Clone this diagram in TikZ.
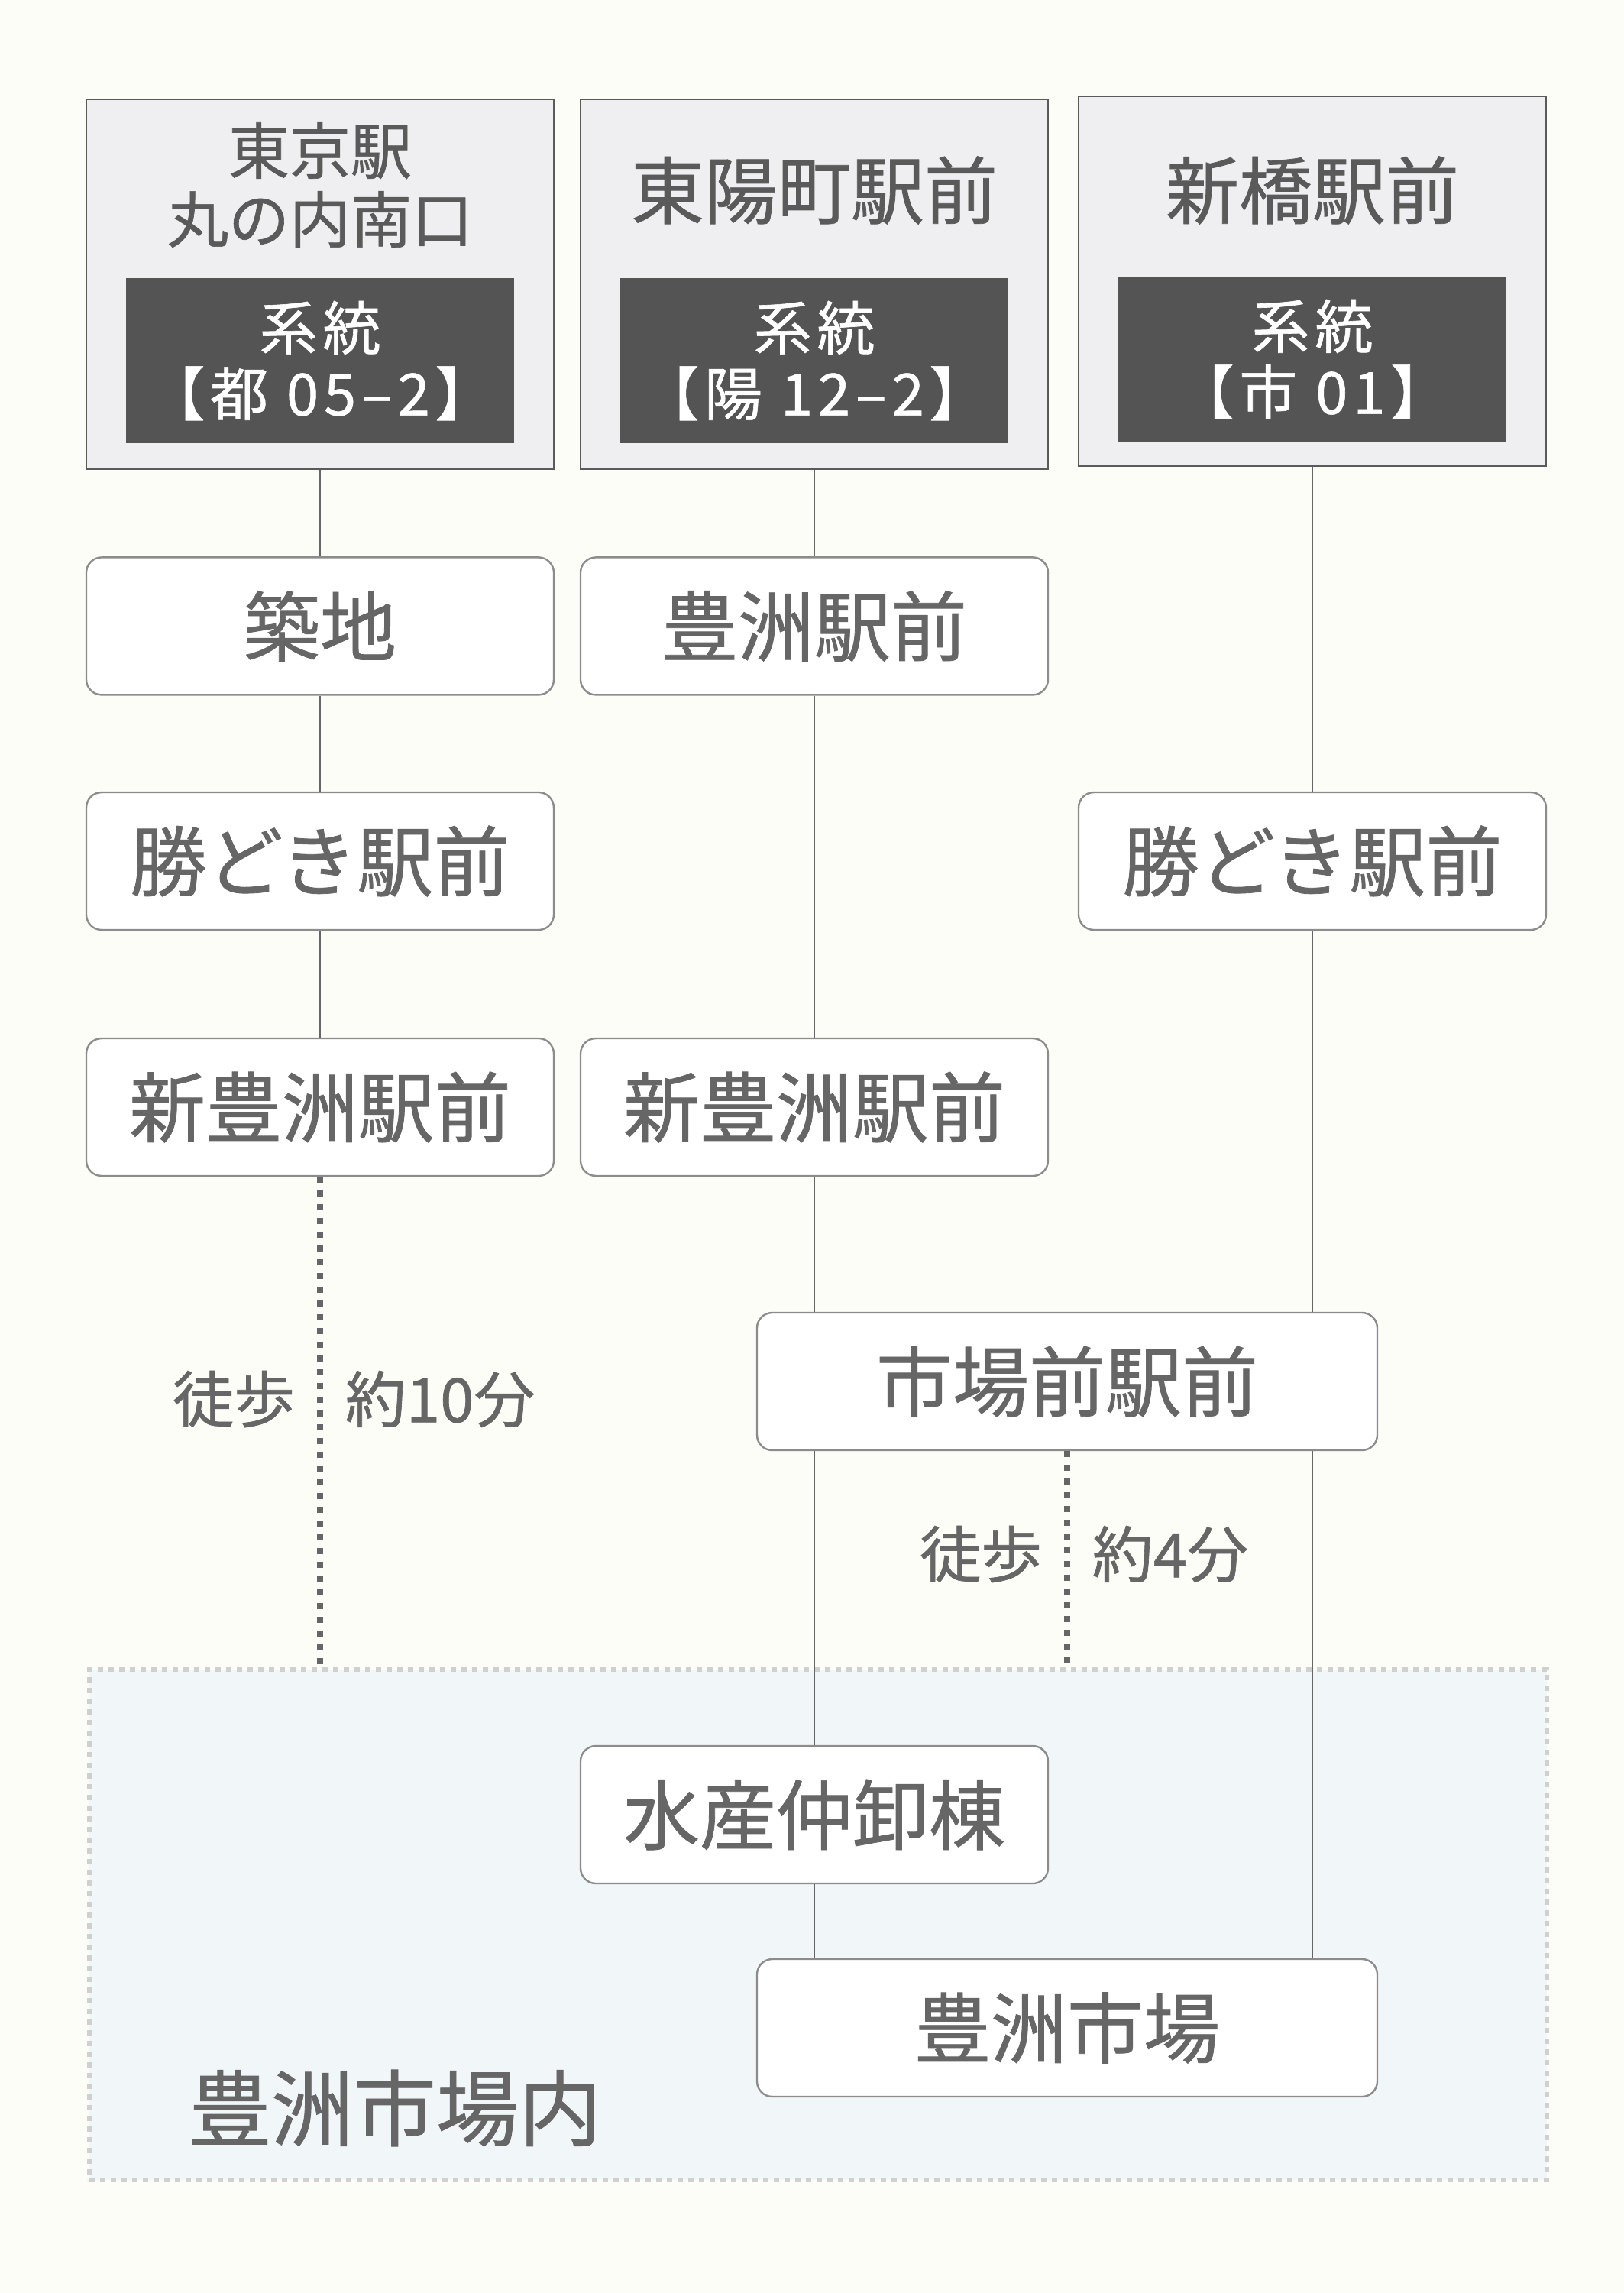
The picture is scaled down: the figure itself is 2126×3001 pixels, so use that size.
\documentclass[tikz,border=0pt]{standalone}
\usepackage{fontspec}
\newfontfamily\jafont[FakeBold=0.8]{Noto Sans CJK JP}
\newfontfamily\jaroute[FakeBold=0.8, LetterSpace=9]{Noto Sans CJK JP}
\usetikzlibrary{positioning}

\definecolor{bgcol}{HTML}{FDFDF8}
\definecolor{hdfill}{HTML}{EFEFF1}
\definecolor{hdline}{HTML}{5A5A5A}
\definecolor{rtfill}{HTML}{545454}
\definecolor{stline}{HTML}{8C8C8C}
\definecolor{txt}{HTML}{666666}
\definecolor{areafill}{HTML}{F1F6F9}
\definecolor{arealine}{HTML}{D0D0D0}

\begin{document}
\begin{tikzpicture}[x=0.25pt, y=-0.25pt]
			% スタイル定義
			\tikzstyle{headbox} = [rectangle, draw=hdline, fill=hdfill, line width=0.6pt, minimum width=153pt, minimum height=121pt]
			\tikzstyle{headtext} = [text=hdline, align=center, font=\jafont\fontsize{24}{26}\selectfont]
			\tikzstyle{routebox} = [rectangle, fill=rtfill, text=white, align=center, minimum width=127pt, minimum height=54pt, font=\jaroute\fontsize{19}{21.5}\selectfont]
			\tikzstyle{stopbox} = [rectangle, draw=stline, fill=white, rounded corners=5pt, line width=0.6pt, minimum width=153pt, minimum height=45pt, text=txt, font=\jafont\fontsize{25}{27}\selectfont]
			\tikzstyle{widebox} = [stopbox, minimum width=203pt]
			\tikzstyle{areabox} = [rectangle, fill=areafill, draw=arealine, line width=1.5pt, dash pattern=on 1.75pt off 1.75pt, minimum width=477pt, minimum height=167pt]
			\tikzstyle{bus} = [draw=txt, line width=0.7pt]
			\tikzstyle{walk} = [draw=txt, line width=1.8pt, dash pattern=on 2pt off 2.5pt]
			\tikzstyle{note} = [text=txt, inner sep=0pt, font=\jafont\fontsize{20}{22}\selectfont]
			
			\useasboundingbox (0,0) rectangle (2126,3001);
			\fill[bgcol] (0,0) rectangle (2126,3001);
			
			% 豊洲市場内
			\node [areabox] (area) at (1071,2519) {};
			\node [text=txt, font=\jafont\fontsize{27}{29}\selectfont] (areatxt) at (517,2759) {豊洲市場内};
			
			% 始発
			\node [headbox] (tokyo) at (419,372) {};
			\node [headtext, font=\jafont\fontsize{20}{22.5}\selectfont] (tokyotxt) at (419,242) {東京駅\\丸の内南口};
			\node [routebox] (tokyort) at (419,472) {系統\\【都 05–2】};
			\node [headbox] (toyo) at (1066,372) {};
			\node [headtext] (toyotxt) at (1066,249) {東陽町駅前};
			\node [routebox] (toyort) at (1066,472) {系統\\【陽 12–2】};
			\node [headbox] (shinbashi) at (1718,368) {};
			\node [headtext] (shinbashitxt) at (1718,249) {新橋駅前};
			\node [routebox] (shinbashirt) at (1718,470) {系統\\【市 01】};
			
			% 停留所
			\node [stopbox, below=28.25pt of tokyo] (tsukiji) {築地};
			\node [stopbox, below=28.25pt of toyo] (toyosusta) {豊洲駅前};
			\node [stopbox] (kachidokiL) at (419,1127) {勝どき駅前};
			\node [stopbox] (kachidokiR) at (1718,1127) {勝どき駅前};
			\node [stopbox] (shintoyoL) at (419,1449) {新豊洲駅前};
			\node [stopbox] (shintoyoM) at (1066,1449) {新豊洲駅前};
			\node [widebox] (ichiba) at (1397,1808) {市場前駅前};
			\node [stopbox] (suisan) at (1066,2375) {水産仲卸棟};
			\node [widebox] (market) at (1397,2654) {豊洲市場};
			
			% 路線
			\draw [bus] (tokyo) -- (tsukiji);
			\draw [bus] (tsukiji) -- (kachidokiL);
			\draw [bus] (kachidokiL) -- (shintoyoL);
			\draw [bus] (toyo) -- (toyosusta);
			\draw [bus] (toyosusta) -- (shintoyoM);
			\draw [bus] (shintoyoM) -- (shintoyoM |- ichiba.north);
			\draw [bus] (ichiba.south -| suisan) -- (suisan);
			\draw [bus] (suisan) -- (suisan |- market.north);
			\draw [bus] (shinbashi) -- (kachidokiR);
			\draw [bus] (kachidokiR) -- (kachidokiR |- ichiba.north);
			\draw [bus] (kachidokiR |- ichiba.south) -- (kachidokiR |- market.north);
			
			% 徒歩
			\draw [walk] (shintoyoL.south) -- (shintoyoL |- area.north);
			\draw [walk] (ichiba.south) -- (ichiba |- area.north);
			\coordinate (walkL) at (419,1831);
			\coordinate (walkM) at (1397,2034);
			\node [note, left=8pt of walkL] (walkLa) {徒歩};
			\node [note, right=8pt of walkL] (walkLb) {約10分};
			\node [note, left=8pt of walkM] (walkMa) {徒歩};
			\node [note, right=8pt of walkM] (walkMb) {約4分};
		\end{tikzpicture}
\end{document}
